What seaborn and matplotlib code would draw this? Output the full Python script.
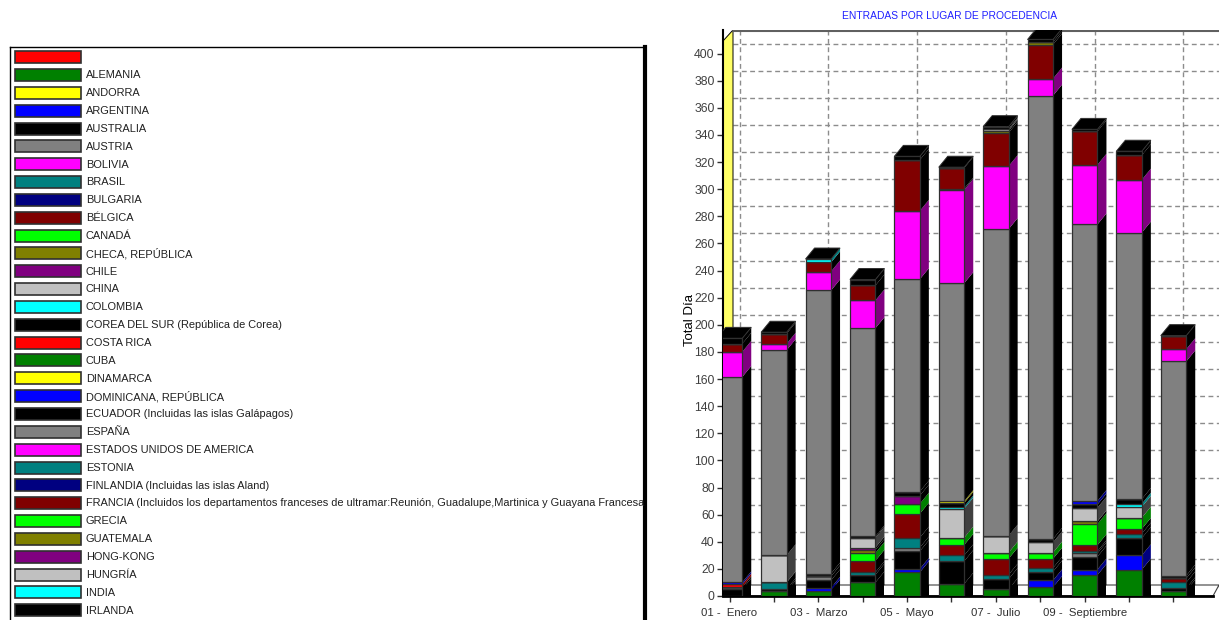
import numpy as np
import pandas as pd
import seaborn as sns
import matplotlib.pyplot as plt
from matplotlib.patches import Polygon, Rectangle

W, H = 1221, 620

# legend entries, top to bottom
legend_names = ['', 'ALEMANIA', 'ANDORRA', 'ARGENTINA', 'AUSTRALIA', 'AUSTRIA', 'BOLIVIA', 'BRASIL',
                'BULGARIA', 'BÉLGICA', 'CANADÁ', 'CHECA, REPÚBLICA', 'CHILE', 'CHINA', 'COLOMBIA',
                'COREA DEL SUR (República de Corea)', 'COSTA RICA', 'CUBA', 'DINAMARCA',
                'DOMINICANA, REPÚBLICA', 'ECUADOR (Incluidas las islas Galápagos)', 'ESPAÑA',
                'ESTADOS UNIDOS DE AMERICA', 'ESTONIA', 'FINLANDIA (Incluidas las islas Aland)',
                'FRANCIA (Incluidos los departamentos franceses de ultramar:Reunión, Guadalupe,Martinica y Guayana Francesa',
                'GRECIA', 'GUATEMALA', 'HONG-KONG', 'HUNGRÍA', 'INDIA', 'IRLANDA']
color_cycle = ['#ff0000', '#008000', '#ffff00', '#0000ff', '#000000', '#808080', '#ff00ff', '#008080',
               '#000080', '#800000', '#00ff00', '#808000', '#800080', '#c0c0c0', '#00ffff', '#000000']

# side face colour of the 3D bars
side_colors = {'#008000': '#000000', '#0000ff': '#000080', '#000000': '#000000', '#808080': '#000000',
               '#008080': '#000000', '#800000': '#000000', '#00ff00': '#008000', '#808000': '#000000',
               '#800080': '#000000', '#c0c0c0': '#404040', '#00ffff': '#008080', '#ff0000': '#800000',
               '#ffff00': '#808000', '#ff00ff': '#800080', '#000080': '#000000'}

months = list(range(11))
month_labels = ['01 -  Enero', '', '03 -  Marzo', '', '05 -  Mayo', '', '07 -  Julio', '', '09 -  Septiembre', '', '']

# values per month, bottom of the stack first
alemania = [0, 3.5, 4, 10, 17.5, 9, 5, 6.5, 15.5, 19.5, 4]
argentina = [0, 0, 2, 0, 2.5, 0, 0, 5, 4, 10.5, 0]
australia = [5, 1.5, 5.5, 5.7, 13, 16.7, 7.5, 6.5, 9.5, 12.7, 1.7]
austria = [1.5, 0, 3, 0, 2.7, 0, 0, 0, 2.5, 0, 0]
brasil = [0, 5, 0, 1.8, 7.3, 4.3, 3.2, 2.7, 1.5, 3.3, 4.3]
belgica = [0, 0, 0, 8.5, 17.7, 7.7, 11.8, 6.8, 4.5, 3.5, 3]
canada = [0, 0, 0, 5.7, 7.3, 5.3, 4.5, 4.5, 15.5, 8.2, 0]
checa = [0, 0, 0, 2.3, 0, 0, 0, 0, 2, 0, 0]
chile = [0, 0, 0, 1.7, 6, 0, 0, 0, 0, 0, 0]
china = [0, 20, 0, 7.3, 0, 21.5, 12.5, 7.5, 10, 8, 0]
colombia = [0, 0, 0, 0, 0, 1.5, 0, 0, 0, 2.3, 0]
corea = [0, 0, 2, 1, 3, 2.7, 0, 2.5, 2.5, 3.5, 2]
costa_rica = [2, 0, 0, 0, 0, 0, 0, 0, 0, 0, 0]
dinamarca = [0, 0, 0, 0, 0, 1.3, 0, 0, 0, 0, 0]
dominicana = [1.5, 0, 0, 0, 0, 0, 0, 0, 2.5, 0, 0]
espana = [151.5, 151.3, 208.8, 153.5, 156.6, 160.7, 226.1, 327, 204, 196.5, 158]
eeuu = [18.5, 4.7, 14, 20.5, 50.4, 68.8, 46.4, 12.6, 44, 39, 9]
finlandia = [0, 0, 0, 0, 0, 1, 0, 0, 0, 0, 0]
francia = [6, 7.5, 6.7, 11, 37.6, 15.2, 24.6, 25.1, 24.6, 18, 10]
guatemala = [0, 0, 0, 0, 0, 0, 1.6, 1.8, 0, 0, 0]
hungria = [0, 0, 0, 0, 0, 0, 1.4, 0, 0, 0, 0]
india = [0, 0, 2.5, 0, 0, 0, 0, 0, 0, 0, 0]
irlanda = [4, 1, 0, 4.4, 2.6, 0.5, 1.5, 1.9, 1.5, 3, 0]

stack = {'ALEMANIA': alemania, 'ARGENTINA': argentina, 'AUSTRALIA': australia, 'AUSTRIA': austria,
         'BRASIL': brasil, 'BELGICA': belgica, 'CANADA': canada, 'CHECA': checa, 'CHILE': chile,
         'CHINA': china, 'COLOMBIA': colombia, 'COREA': corea, 'COSTA RICA': costa_rica,
         'DINAMARCA': dinamarca, 'DOMINICANA': dominicana, 'ESPANA': espana, 'EEUU': eeuu,
         'FINLANDIA': finlandia, 'FRANCIA': francia, 'GUATEMALA': guatemala, 'HUNGRIA': hungria,
         'INDIA': india, 'IRLANDA': irlanda}
stack_colors = ['#008000', '#0000ff', '#000000', '#808080', '#008080', '#800000', '#00ff00', '#808000',
                '#800080', '#c0c0c0', '#00ffff', '#000000', '#ff0000', '#ffff00', '#0000ff', '#808080',
                '#ff00ff', '#000080', '#800000', '#808000', '#c0c0c0', '#00ffff', '#000000']

sns.set_theme(style='white')
plt.rcParams['font.family'] = ['Liberation Sans']

rows = [(m, name, v) for name, vals in stack.items() for m, v in zip(months, vals) if v > 0]
df = pd.DataFrame(rows, columns=['mes', 'pais', 'valor'])

fig = plt.figure(figsize=(W / 100, H / 100), dpi=100, facecolor='white')


def px_axes(x0, y0, x1, y1):
    return fig.add_axes([x0 / W, 1 - y1 / H, (x1 - x0) / W, (y1 - y0) / H])


# ---- legend panel
lax = px_axes(10, 47, 645, 620)
lax.set_xlim(10, 645)
lax.set_ylim(620, 47)
lax.set_xticks([])
lax.set_yticks([])
lax.spines['bottom'].set_visible(False)
for s in ['top', 'left']:
    lax.spines[s].set_color('black')
    lax.spines[s].set_linewidth(1)
lax.spines['right'].set_color('black')
lax.spines['right'].set_linewidth(3)
for i, name in enumerate(legend_names):
    yc = 57.2 + i * 17.84
    lax.add_patch(Rectangle((15, yc - 6), 66, 12, facecolor=color_cycle[i % 16],
                            edgecolor='#303030', linewidth=1.2))
    lax.text(86, yc + 0.3, name, fontsize=7.9, va='center', ha='left', color='#202020')

# ---- chart
ax = px_axes(723, 30, 1219, 596)
px_x = 44.4
px_y = 1.356
x_lo = (723 - 729.5) / px_x
x_hi = x_lo + (1219 - 723) / px_x
y_hi = (596 - 30) / px_y
dx = 9 / px_x
dy = 11 / px_y
wall_dx = 10 / px_x
half = 25.5 / px_x / 2

# seaborn piles the first hue level on top, so hand the levels over reversed
sns.histplot(data=df, x='mes', weights='valor', hue='pais', hue_order=list(stack.keys())[::-1],
             multiple='stack', discrete=True, shrink=25.5 / px_x, palette=stack_colors[::-1],
             alpha=1, edgecolor='#303030', linewidth=0.9, legend=False, zorder=5, ax=ax)
ax.set_xlim(x_lo, x_hi)
ax.set_ylim(0, y_hi)

# back wall grid, shifted by the 3D depth
grid_y = np.arange(0, 401, 20)
for g in grid_y:
    ax.plot([x_lo + wall_dx, x_hi], [g + 10 / px_y] * 2, color='#8c8c8c', lw=1, ls=(0, (3.5, 2.5)), zorder=1)
for m in months[::2]:
    ax.plot([m + wall_dx] * 2, [dy, y_hi], color='#8c8c8c', lw=1, ls=(0, (3.5, 2.5)), zorder=1)

# yellow side wall and floor
ax.add_patch(Polygon([(x_lo, 0), (x_lo + wall_dx, dy), (x_lo + wall_dx, y_hi), (x_lo, y_hi - dy)],
                     facecolor='#ffff66', edgecolor='black', linewidth=0.7, zorder=2))
floor_end = x_hi - 6 / px_x
ax.add_patch(Polygon([(x_lo, 0), (x_lo + wall_dx, dy), (x_hi, dy), (floor_end, 0)],
                     facecolor='white', edgecolor='#404040', linewidth=0.8, zorder=2))
ax.plot([x_lo + wall_dx, x_hi], [y_hi - 0.7] * 2, color='#606060', lw=1.5, zorder=2)

# 3D side faces and tops, taken from the stacked values
bottoms = np.zeros(len(months))
for (name, vals), c in zip(stack.items(), stack_colors):
    vals = np.array(vals, dtype=float)
    for m in months:
        if vals[m] > 0:
            x1 = m + half
            y0, y1 = bottoms[m], bottoms[m] + vals[m]
            ax.add_patch(Polygon([(x1, y0), (x1 + dx, y0 + dy), (x1 + dx, y1 + dy), (x1, y1)],
                                 facecolor=side_colors[c], edgecolor='none', zorder=4))
    bottoms = bottoms + vals
for m in months:
    x0, x1 = m - half, m + half
    t = bottoms[m]
    ax.add_patch(Polygon([(x0, t), (x0 + dx, t + dy), (x1 + dx, t + dy), (x1, t)],
                         facecolor='black', edgecolor='#303030', linewidth=0.7, zorder=4))
    ax.add_patch(Rectangle((x1, 0), dx, dy, facecolor='black', edgecolor='none', zorder=3))

ax.set_xticks(months)
ax.set_xticklabels(month_labels, fontsize=8.2, color='#303030')
ax.set_yticks(grid_y)
ax.set_yticklabels([str(g) for g in grid_y], fontsize=8.8, color='#404040')
ax.tick_params(axis='both', length=4, width=1, color='#303030', pad=2, left=True, bottom=True)
ax.tick_params(axis='x', pad=5)
ax.set_xlabel('')
ax.set_ylabel('Total Día', fontsize=9.5, color='black', labelpad=0)
ax.yaxis.set_label_coords((696 - 723) / (1219 - 723), (596 - 320) / 566)
for s in ['top', 'right']:
    ax.spines[s].set_visible(False)
ax.spines['left'].set_color('black')
ax.spines['left'].set_linewidth(1.5)
ax.spines['bottom'].set_bounds(x_lo, floor_end)
ax.spines['bottom'].set_color('black')
ax.spines['bottom'].set_linewidth(2)

fig.text(950 / W, 1 - 16 / H, 'ENTRADAS POR LUGAR DE PROCEDENCIA', color='#2020ff', fontsize=7.4,
         ha='center', va='center')

fig.savefig('out.png', dpi=100)
